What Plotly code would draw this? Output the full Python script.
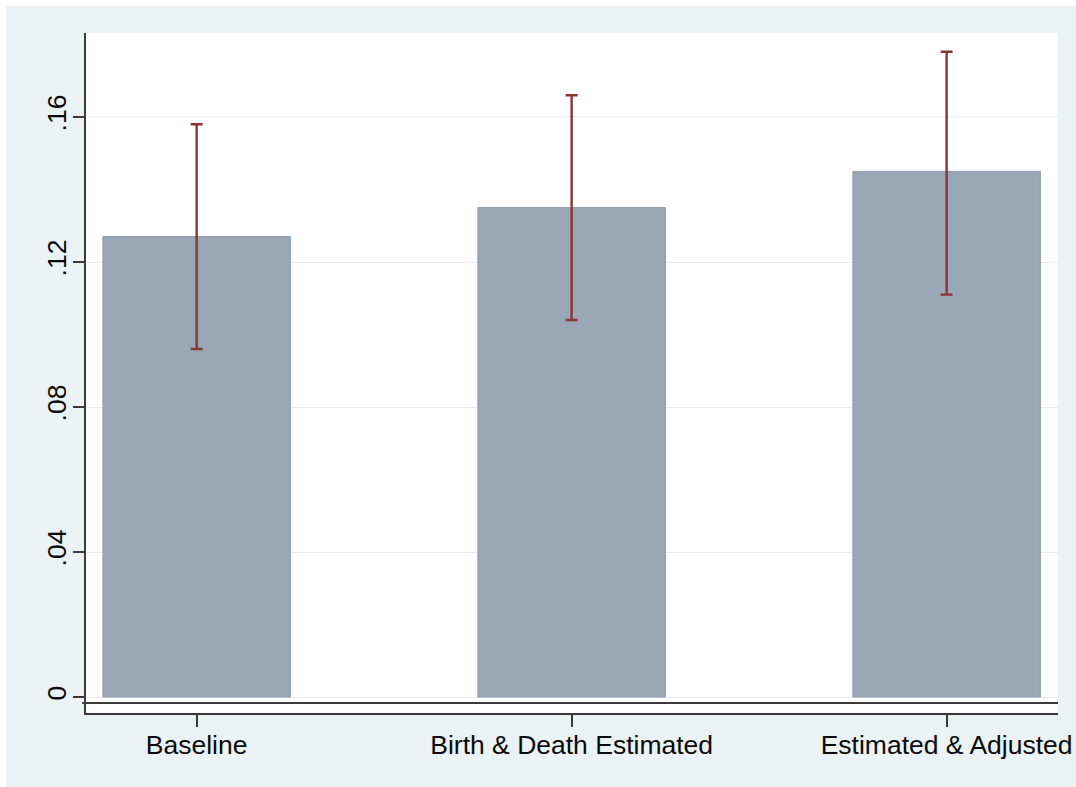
import plotly.graph_objects as go

# Estimates with 95% confidence bounds
categories = ["Baseline", "Birth & Death Estimated", "Estimated & Adjusted"]
estimates = [0.127, 0.135, 0.145]
ci_lower = [0.096, 0.104, 0.111]
ci_upper = [0.158, 0.166, 0.178]
y_ticks = [0, 0.04, 0.08, 0.12, 0.16]
y_tick_labels = ["0", ".04", ".08", ".12", ".16"]

err_plus = [u - e for u, e in zip(ci_upper, estimates)]
err_minus = [e - l for e, l in zip(estimates, ci_lower)]

FONT = "Liberation Sans, Arial, Helvetica, sans-serif"
OUTER_BG = "#EAF2F3"
AXIS = "#3a3a3a"

fig = go.Figure()
fig.add_trace(go.Bar(
    x=list(range(len(categories))),
    y=estimates,
    width=0.5,
    marker=dict(color="#9AA7B7", line=dict(color="#8E9BAB", width=1)),
    error_y=dict(type="data", array=err_plus, arrayminus=err_minus,
                 color="#8B3434", thickness=2.4, width=6),
    hoverinfo="skip",
))

fig.update_layout(
    width=1076, height=787,
    margin=dict(l=86, r=18, t=33, b=74),
    paper_bgcolor=OUTER_BG,
    plot_bgcolor="white",
    showlegend=False,
    font=dict(family=FONT, size=26.5, color="#0a0a0a"),
    xaxis=dict(
        range=[-0.295, 2.297],
        automargin=False,
        tickmode="array",
        tickvals=list(range(len(categories))),
        ticktext=categories,
        ticks="outside", ticklen=12, tickwidth=1.5, tickcolor=AXIS,
        ticklabelstandoff=-5,
        showline=True, linecolor=AXIS, linewidth=2,
        showgrid=False, zeroline=False,
        tickfont=dict(size=26.5),
    ),
    yaxis=dict(
        range=[-0.00441, 0.18317],
        automargin=False,
        tickmode="array",
        tickvals=y_ticks,
        ticktext=y_tick_labels,
        tickangle=-90,
        ticks="outside", ticklen=11, tickwidth=1.5, tickcolor=AXIS,
        ticklabelstandoff=-4,
        showline=True, linecolor=AXIS, linewidth=2,
        showgrid=True, gridcolor="#EBEBEB", gridwidth=1,
        zeroline=False,
        tickfont=dict(size=26.5),
    ),
    shapes=[
        # baseline rule just below zero
        dict(type="line", xref="paper", yref="y", x0=-0.004, x1=1,
             y0=-0.00166, y1=-0.00166, line=dict(color=AXIS, width=2)),
        # white page border strips
        dict(type="rect", xref="paper", yref="paper", layer="below",
             x0=-86 / 972, x1=(1076 - 86) / 972, y0=1 + 27 / 680, y1=1 + 40 / 680,
             fillcolor="white", line=dict(width=0)),
        dict(type="rect", xref="paper", yref="paper", layer="below",
             x0=-86 / 972, x1=-80 / 972, y0=-80 / 680, y1=1 + 40 / 680,
             fillcolor="white", line=dict(width=0)),
    ],
)

fig.write_html("out.html")
